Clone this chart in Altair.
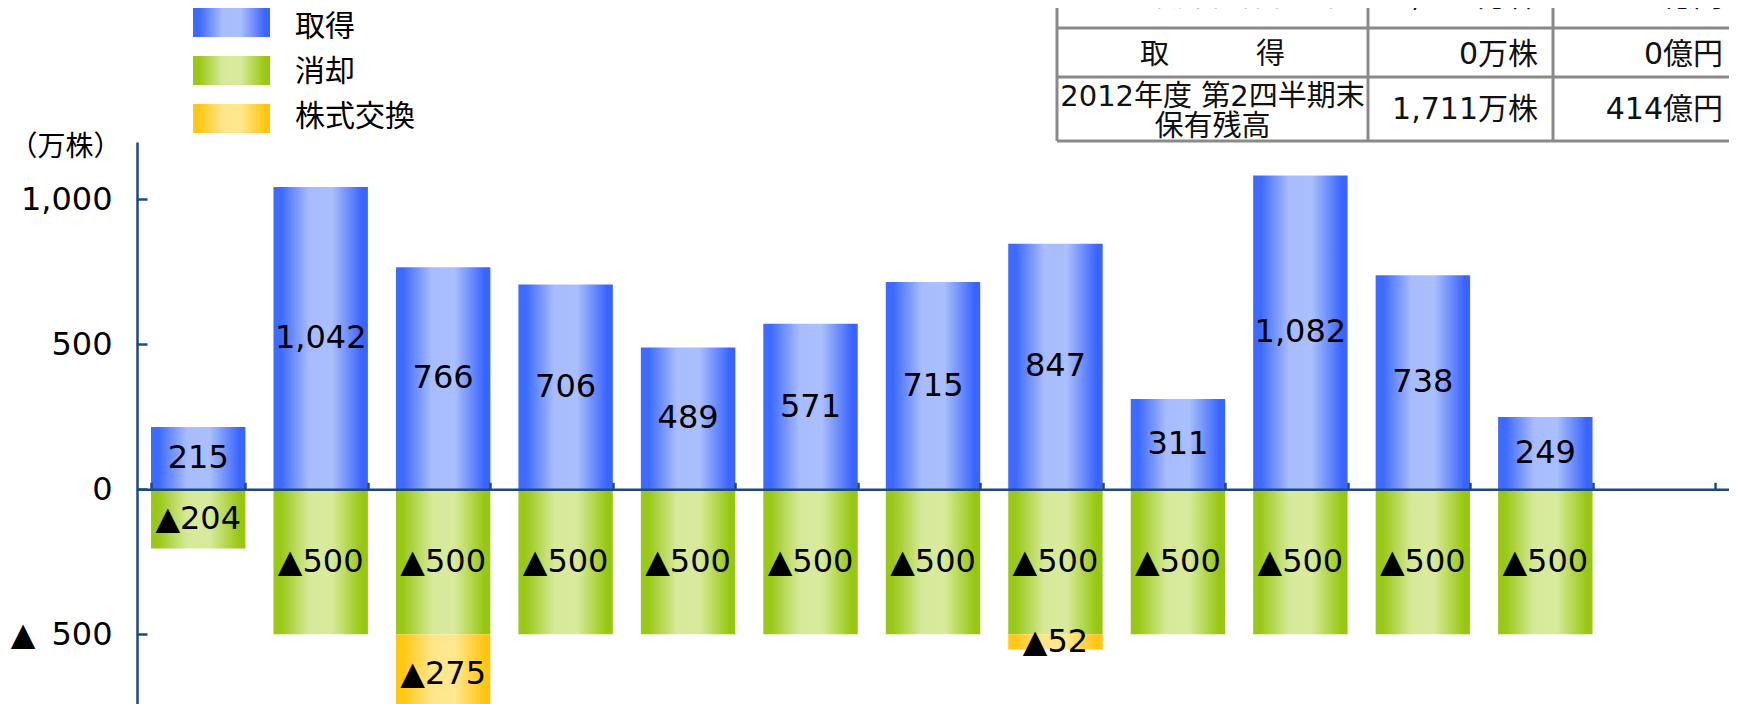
import altair as alt
import pandas as pd

# ---------------- data ----------------
categories = ["2000年度", "2001年度", "2002年度", "2003年度", "2004年度", "2005年度",
              "2006年度", "2007年度", "2008年度", "2009年度", "2010年度", "2011年度", "2012年度"]
series_names = ["取得", "消却", "株式交換"]
acquired = [215, 1042, 766, 706, 489, 571, 715, 847, 311, 1082, 738, 249, 0]
retired = [-204, -500, -500, -500, -500, -500, -500, -500, -500, -500, -500, -500, 0]
exchanged = [0, 0, -275, 0, 0, 0, 0, -52, 0, 0, 0, 0, 0]

y_ticks = [-500, 0, 500, 1000]
y_unit = "（万株）"

table_col1 = ["2011年度末 保有残高", "取\u3000\u3000\u3000得", "2012年度 第2四半期末\n保有残高"]
table_col2 = ["1,710万株", "0万株", "1,711万株"]
table_col3 = ["414億円", "0億円", "414億円"]

# ---------------- build table ----------------
rows = []
for i, c in enumerate(categories):
    a, r, e = acquired[i], retired[i], exchanged[i]
    if a:
        rows.append(dict(cat=c, series="取得", value=a, start=0, end=a))
    if r:
        rows.append(dict(cat=c, series="消却", value=r, start=0, end=r))
    if e:
        rows.append(dict(cat=c, series="株式交換", value=e, start=r, end=r + e))
df = pd.DataFrame(rows)
df["mid"] = (df["start"] + df["end"]) / 2
df["label"] = [f"{v:,}" if v > 0 else "▲" + f"{-v:,}" for v in df["value"]]


def grad(edge_l, light1, light2, edge_r):
    return alt.Gradient(
        gradient="linear", x1=0, x2=1, y1=0, y2=0,
        stops=[alt.GradientStop(offset=0, color=edge_l),
               alt.GradientStop(offset=0.08, color=edge_l),
               alt.GradientStop(offset=0.38, color=light1),
               alt.GradientStop(offset=0.62, color=light2),
               alt.GradientStop(offset=0.94, color=edge_r),
               alt.GradientStop(offset=1, color=edge_r)])


fills = {
    "取得": grad("#3d6aff", "#a8bcfe", "#aabffc", "#3a64ff"),
    "消却": grad("#9ac818", "#d6e99a", "#d9ea9c", "#97c710"),
    "株式交換": grad("#ffc814", "#ffe58a", "#ffe88f", "#ffc510"),
}

W, H = 1592, 562
AXIS = "#1f4a78"
NUM_FONT = "DejaVu Sans"
JP_FONT = "Noto Sans CJK JP"
MIX_FONT = "DejaVu Sans, Noto Sans CJK JP"

xscale = alt.Scale(domain=categories, paddingInner=0.229, paddingOuter=0.1145)
yscale = alt.Scale(domain=[-740.3, 1197.6], nice=False, zero=False)
zero_px = 347.3

x_axis = alt.Axis(orient="top", offset=-zero_px, labels=False, ticks=True, grid=False,
                  tickBand="extent", tickSize=7, tickWidth=2.5, tickColor=AXIS,
                  domainColor=AXIS, domainWidth=2.5, zindex=2, title=None)


def X():
    return alt.X("cat:N", scale=xscale, title=None, axis=x_axis)


layers = []
first = True
for s in series_names:
    sub = df[df["series"] == s]
    if first:
        yenc = alt.Y("start:Q", scale=yscale, title=y_unit,
                     axis=alt.Axis(orient="left", values=y_ticks, domain=False, ticks=False,
                                   grid=False, tickSize=0, labelPadding=25, labelFont=NUM_FONT,
                                   labelFontSize=32, labelColor="#000",
                                   labelExpr="datum.value < 0 ? '▲\u2002' + format(-datum.value, ',') : format(datum.value, ',')",
                                   titleAngle=0, titleAlign="left", titleBaseline="middle",
                                   titleX=-128, titleY=5, titleFont=JP_FONT, titleFontSize=28,
                                   titleFontWeight="normal", titleColor="#000"))
        first = False
    else:
        yenc = alt.Y("start:Q", scale=yscale, axis=None)
    layers.append(alt.Chart(sub).mark_bar(fill=fills[s], clip=True).encode(
        x=X(), y=yenc, y2="end:Q"))

# right-side axis carrying the inward ticks and the vertical axis line
tick_axis = alt.Chart(df).mark_point(opacity=0).encode(
    x=X(),
    y=alt.Y("mid:Q", scale=yscale, title=None,
            axis=alt.Axis(orient="right", offset=-W, values=y_ticks, labels=False, grid=False,
                          tickSize=10, tickWidth=2.5, tickColor=AXIS,
                          domainColor=AXIS, domainWidth=2.5, zindex=2)))

labels = alt.Chart(df).mark_text(font=NUM_FONT, fontSize=32, color="#000",
                                 baseline="middle", align="center").encode(
    x=X(),
    y=alt.Y("mid:Q", scale=yscale, axis=None),
    text="label:N")

# ---------------- legend (manual, gradient swatches) ----------------
leg_y = [(-134, -105), (-86, -57), (-38, -9)]
leg_text_y = [-115, -70, -25]
for s, (y1, y2), ty in zip(series_names, leg_y, leg_text_y):
    d = pd.DataFrame({"name": [s]})
    layers.append(alt.Chart(d).mark_rect(fill=fills[s]).encode(
        x=alt.value(56), x2=alt.value(133), y=alt.value(y1), y2=alt.value(y2)))
    layers.append(alt.Chart(d).mark_text(font=JP_FONT, fontSize=30, color="#000",
                                         align="left", baseline="middle").encode(
        x=alt.value(158), y=alt.value(ty), text="name:N"))

# ---------------- table (top right) ----------------
GRID = "#8a8a8a"
one = pd.DataFrame({"k": [0]})
for xv in [920, 1231, 1416]:
    layers.append(alt.Chart(one).mark_rule(color=GRID, strokeWidth=3).encode(
        x=alt.value(xv), y=alt.value(-175), y2=alt.value(-1)))
for yv in [-114, -65, -1]:
    layers.append(alt.Chart(one).mark_rule(color=GRID, strokeWidth=3).encode(
        y=alt.value(yv), x=alt.value(920), x2=alt.value(1620)))

row_y1 = [-145, -87, -45]
row_yv = [-145, -87, -32]
for t1, t2, t3, ya, yb in zip(table_col1, table_col2, table_col3, row_y1, row_yv):
    layers.append(alt.Chart(pd.DataFrame({"t": [t1]})).mark_text(
        font=MIX_FONT, fontSize=29, color="#111", align="center", baseline="middle",
        lineBreak="\n", lineHeight=30).encode(x=alt.value(1075.5), y=alt.value(ya), text="t:N"))
    layers.append(alt.Chart(pd.DataFrame({"t": [t2]})).mark_text(
        font=MIX_FONT, fontSize=30, color="#111", align="right", baseline="middle").encode(
        x=alt.value(1401), y=alt.value(yb), text="t:N"))
    layers.append(alt.Chart(pd.DataFrame({"t": [t3]})).mark_text(
        font=MIX_FONT, fontSize=30, color="#111", align="right", baseline="middle").encode(
        x=alt.value(1586), y=alt.value(yb), text="t:N"))

chart = alt.layer(*layers, tick_axis, labels).resolve_axis(y="independent").properties(
    width=W, height=H,
    autosize=alt.AutoSizeParams(type="none"),
    padding={"left": 129, "top": 134, "right": 0, "bottom": 0},
    background="white",
).configure_view(strokeWidth=0)

chart.save("out.html", embed_options={"renderer": "svg", "actions": False})
